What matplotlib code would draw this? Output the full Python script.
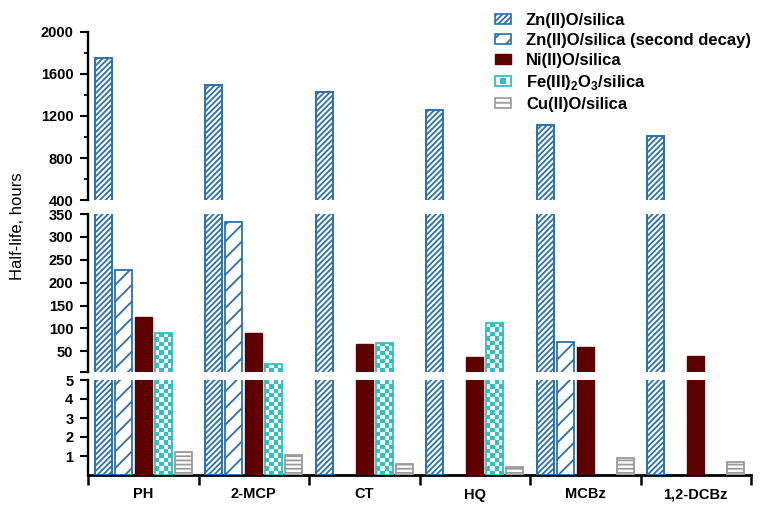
import numpy as np
import matplotlib
matplotlib.use("Agg")
import matplotlib.pyplot as plt
from matplotlib.colors import ListedColormap
from matplotlib.patches import Patch, Rectangle
from matplotlib.legend_handler import HandlerBase

plt.rcParams["font.family"] = ["Liberation Sans", "DejaVu Sans"]
plt.rcParams["mathtext.fontset"] = "custom"
plt.rcParams["mathtext.rm"] = "Liberation Sans"
plt.rcParams["mathtext.bf"] = "Liberation Sans:bold"
plt.rcParams["hatch.linewidth"] = 1.3

categories = ["PH", "2-MCP", "CT", "HQ", "MCBz", "1,2-DCBz"]
zn = [1750, 1495, 1430, 1260, 1110, 1005]
zn_second = [227, 333, np.nan, np.nan, 71, np.nan]
ni = [125, 91, 67, 37, 59, 41]
fe = [90, 23, 69, 111, np.nan, np.nan]
cu = [1.2, 1.05, 0.58, 0.42, 0.9, 0.68]

series_labels = ["Zn(II)O/silica", "Zn(II)O/silica (second decay)", "Ni(II)O/silica",
                 r"Fe(III)$_\mathbf{2}$O$_\mathbf{3}$/silica", "Cu(II)O/silica"]

BLUE = "#2a70ae"
MAROON = "#5c0000"
CYAN = "#2cc2c4"
GREY = "#9a9a9a"

W, H = 764, 509
fig = plt.figure(figsize=(W / 100, H / 100), dpi=100)

left, right = 88 / W, 751 / W


def add_ax(top_px, bot_px):
    return fig.add_axes([left, 1 - bot_px / H, right - left, (bot_px - top_px) / H])


ax_top = add_ax(32, 200)
ax_mid = add_ax(214, 372)
ax_bot = add_ax(380, 475)
axes = [ax_top, ax_mid, ax_bot]
ax_top.set_ylim(400, 2000)
ax_mid.set_ylim(5, 350)
ax_bot.set_ylim(0, 5)

x = np.arange(len(categories))
step = 0.181
width = 0.155

fe_bars = []
for ax in axes:
    ax.set_xlim(-0.5, len(categories) - 0.5)
    ax.bar(x - 2 * step, zn, width, facecolor="white", edgecolor=BLUE, hatch="//////", linewidth=1.4, zorder=3)
    ax.bar(x - step, zn_second, width, facecolor="white", edgecolor=BLUE, hatch="//", linewidth=1.3, zorder=3)
    ax.bar(x, ni, width, color=MAROON, edgecolor=MAROON, zorder=3)
    b = ax.bar(x + step, fe, width, facecolor="none", edgecolor=CYAN, linewidth=1.3, zorder=4)
    fe_bars.append((ax, b))
    ax.bar(x + 2 * step, cu, width, facecolor="white", edgecolor=GREY, hatch="----", linewidth=1.3, zorder=3)

    for s in ["top", "right"]:
        ax.spines[s].set_visible(False)
    ax.spines["left"].set_linewidth(1.7)
    ax.tick_params(axis="y", which="major", length=6, width=1.5, pad=4.5, labelsize=10.5)
    ax.tick_params(axis="y", which="minor", length=3, width=1.3)

# checkerboard fill for Fe bars
checker_cmap = ListedColormap(["white", CYAN])
for ax, bars in fe_bars:
    for rect in bars:
        h = rect.get_height()
        if np.isnan(h):
            continue
        x0 = rect.get_x()
        x1 = x0 + rect.get_width()
        y0, y1 = ax.get_ylim()
        ytop = min(h, y1)
        p0 = ax.transData.transform((x0, y0))
        p1 = ax.transData.transform((x1, ytop))
        ncols = 4
        cell = (p1[0] - p0[0]) / ncols
        nrows = max(1, int(round((p1[1] - p0[1]) / cell)))
        grid = (np.add.outer(np.arange(nrows), np.arange(ncols)) % 2).astype(float)
        im = ax.imshow(grid, cmap=checker_cmap, extent=(x0, x1, y0, ytop), origin="lower",
                       interpolation="nearest", aspect="auto", zorder=3.5)
        im.set_clip_path(rect)
    ax.set_xlim(-0.5, len(categories) - 0.5)

ax_top.set_yticks([400, 800, 1200, 1600, 2000])
ax_top.set_yticks([600, 1000, 1400, 1800], minor=True)
ax_mid.set_yticks([50, 100, 150, 200, 250, 300, 350])
ax_mid.set_yticks([5], minor=True)
ax_mid.tick_params(axis="y", which="minor", length=6, width=1.5)
ax_bot.set_yticks([1, 2, 3, 4, 5])
for ax in axes:
    for lab in ax.get_yticklabels():
        lab.set_fontweight("bold")

for ax in [ax_top, ax_mid]:
    ax.spines["bottom"].set_visible(False)
    ax.set_xticks([])

ax_bot.spines["bottom"].set_linewidth(2.0)
ax_bot.set_xticks(x)
ax_bot.set_xticklabels(categories, fontweight="bold", fontsize=10.5)
ax_bot.set_xticks(np.arange(len(categories) + 1) - 0.5, minor=True)
ax_bot.tick_params(axis="x", which="major", length=0, pad=9)
ax_bot.tick_params(axis="x", which="minor", length=7, width=1.8)

fig.text(18 / W, 1 - 226 / H, "Half-life, hours", rotation=90, ha="center", va="center", fontsize=12)


class CheckerHandler(HandlerBase):
    def create_artists(self, legend, orig_handle, xdescent, ydescent, width, height, fontsize, trans):
        outer = Rectangle((-xdescent, -ydescent), width, height, facecolor="white",
                          edgecolor=CYAN, linewidth=1.3, transform=trans)
        inner = Rectangle((-xdescent + width * 0.3, -ydescent + height * 0.22), width * 0.4, height * 0.56,
                          facecolor=CYAN, edgecolor="none", transform=trans)
        return [outer, inner]


handles = [
    Patch(facecolor="white", edgecolor=BLUE, hatch="//////", linewidth=1.2),
    Patch(facecolor="white", edgecolor=BLUE, hatch="//", linewidth=1.2),
    Patch(facecolor=MAROON, edgecolor=MAROON),
    Patch(facecolor="white", edgecolor=CYAN),
    Patch(facecolor="white", edgecolor=GREY, hatch="---", linewidth=1.2),
]
leg = fig.legend(handles, series_labels, loc="upper left", bbox_to_anchor=(480 / W, 1 + 2 / H),
                 frameon=False, prop={"weight": "bold", "size": 12}, handlelength=0.96, handleheight=0.55,
                 handletextpad=0.9, labelspacing=0.3, borderpad=0.4,
                 handler_map={handles[3]: CheckerHandler()})

fig.savefig("out.png", dpi=100)
